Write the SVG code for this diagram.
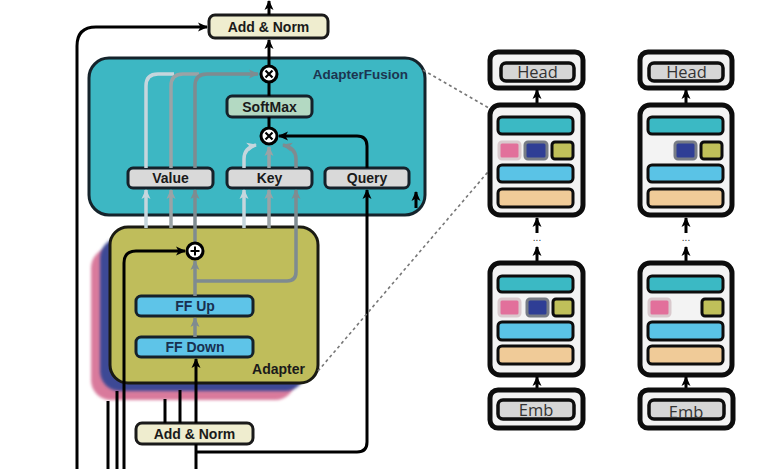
<svg xmlns="http://www.w3.org/2000/svg" width="781" height="469" viewBox="0 0 781 469">
<style>
.lbl{font-family:"Liberation Sans",Arial,sans-serif;font-weight:bold;font-size:14px;fill:#1a1a1a;text-anchor:middle}
.box{stroke:#15212a;stroke-width:3}
.blk{stroke:#000;stroke-width:3;fill:none}
.lt{stroke:#c6d6dd;stroke-width:3.5;fill:none}
.md{stroke:#9ba3a6;stroke-width:3.5;fill:none}
.dk{stroke:#7f8b90;stroke-width:3.5;fill:none}
.mdl{font-family:"Open Sans","Noto Sans",sans-serif;font-size:16.5px;fill:#333;text-anchor:middle}
.outer{fill:#f3f3f3;stroke:#0d0d0d;stroke-width:5}
.bar{stroke:#0d0d0d;stroke-width:3}
.circ{fill:#fff;stroke:#000;stroke-width:3}
</style>
<defs>
<marker id="ab" viewBox="0 0 10 10" refX="9" refY="5" markerWidth="10" markerHeight="10" markerUnits="userSpaceOnUse" orient="auto"><path d="M0,0.5 L10,5 L0,9.5 L2.5,5z" fill="#000"/></marker>
<marker id="al" viewBox="0 0 10 10" refX="9" refY="5" markerWidth="10" markerHeight="10" markerUnits="userSpaceOnUse" orient="auto"><path d="M0,0.5 L10,5 L0,9.5 L2.5,5z" fill="#c6d6dd"/></marker>
<marker id="am" viewBox="0 0 10 10" refX="9" refY="5" markerWidth="10" markerHeight="10" markerUnits="userSpaceOnUse" orient="auto"><path d="M0,0.5 L10,5 L0,9.5 L2.5,5z" fill="#9ba3a6"/></marker>
<marker id="ad" viewBox="0 0 10 10" refX="9" refY="5" markerWidth="10" markerHeight="10" markerUnits="userSpaceOnUse" orient="auto"><path d="M0,0.5 L10,5 L0,9.5 L2.5,5z" fill="#7f8b90"/></marker>
<filter id="soft" x="-10%" y="-10%" width="120%" height="120%"><feGaussianBlur stdDeviation="1.5"/></filter>
</defs>
<rect width="781" height="469" fill="#fff"/>

<g id="adapterfusion">
<rect x="89" y="58" width="336" height="157" rx="20" fill="#3db7c3" stroke="#15232b" stroke-width="3"/>
<text x="408" y="79" font-family="Liberation Sans,Arial,sans-serif" font-weight="bold" font-size="13.5" fill="#1c3550" text-anchor="end">AdapterFusion</text>
</g>
<g id="adapter-stack">
<rect x="91" y="248" width="204" height="152" rx="20" fill="#d97a9c" filter="url(#soft)"/>
<rect x="100" y="238" width="205" height="153" rx="20" fill="#3c4a95" filter="url(#soft)"/>
</g>
<g id="adapter">
<rect x="110" y="227" width="208" height="156" rx="18" fill="#bfbd5b" stroke="#1a1a12" stroke-width="3"/>
<text x="305" y="374" class="lbl" text-anchor="end" style="text-anchor:end">Adapter</text>
</g>
<g id="ff-up"><rect x="136" y="296" width="117" height="20" rx="5" fill="#5ec4e8" class="box"/><text x="195" y="311" class="lbl" fill="#183050" style="fill:#183050">FF Up</text></g>
<g id="ff-down"><rect x="136" y="337" width="117" height="20" rx="5" fill="#5ec4e8" class="box"/><text x="195" y="352" class="lbl" style="fill:#183050">FF Down</text></g>
<g id="value"><rect x="128" y="168" width="85" height="20" rx="5" fill="#d9d9d9" class="box"/><text x="170.5" y="183" class="lbl">Value</text></g>
<g id="key"><rect x="227" y="168" width="85" height="20" rx="5" fill="#d9d9d9" class="box"/><text x="269.5" y="183" class="lbl">Key</text></g>
<g id="query"><rect x="325" y="168" width="84" height="20" rx="5" fill="#d9d9d9" class="box"/><text x="367" y="183" class="lbl">Query</text></g>
<g id="softmax"><rect x="227" y="96" width="85" height="21" rx="5" fill="#b3d9c2" class="box"/><text x="269.5" y="111.5" class="lbl">SoftMax</text></g>
<g id="addnorm-top"><rect x="209" y="15" width="119" height="23" rx="6" fill="#efedcf" stroke="#1a1a1a" stroke-width="3"/><text x="268.5" y="31.5" class="lbl">Add &amp; Norm</text></g>
<g id="addnorm-bottom"><rect x="136" y="423" width="117" height="21" rx="6" fill="#efedcf" stroke="#1a1a1a" stroke-width="3"/><text x="194.5" y="438.5" class="lbl">Add &amp; Norm</text></g>

<g id="connectors">
<!-- residual and outputs -->
<path class="blk" d="M77,469 V46 Q77,27 96,27 H207" marker-end="url(#ab)"/>
<path class="blk" d="M269,15 V1" marker-end="url(#ab)"/>
<path class="blk" d="M269,66 V40" marker-end="url(#ab)"/>
<path class="blk" d="M269,128 V117"/>
<path class="blk" d="M269,96 V82"/>
<!-- value to top mult -->
<path class="lt" d="M146,168 V86 Q146,74 158,74 H174"/>
<path class="md" d="M171,168 V86 Q171,74 183,74 H199"/>
<path class="dk" d="M195,168 V86 Q195,74 207,74 H258" marker-end="url(#ad)"/>
<!-- inputs to value -->
<path class="lt" d="M146,228 V190" marker-end="url(#al)"/>
<path class="md" d="M171,228 V190" marker-end="url(#am)"/>
<path class="dk" d="M195,243 V190" marker-end="url(#ad)"/>
<!-- inputs to key -->
<path class="lt" d="M244,228 V190" marker-end="url(#al)"/>
<path class="md" d="M269,228 V190" marker-end="url(#am)"/>
<path class="dk" d="M195,281 H287 Q296,281 296,272 V190" marker-end="url(#ad)"/>
<!-- key to lower mult -->
<path class="lt" d="M244,168 V159 Q244,148 256,145" marker-end="url(#al)"/>
<path class="md" d="M269,168 V147" marker-end="url(#am)"/>
<path class="dk" d="M296,168 V159 Q296,148 283,145" marker-end="url(#ad)"/>
<!-- query -->
<path class="blk" d="M367,168 V146 Q367,136 357,136 H279" marker-end="url(#ab)"/>
<path class="blk" d="M196,452 H357 Q367,452 367,442 V190" marker-end="url(#ab)"/>
<!-- main input -->
<path class="blk" d="M196,469 V444"/>
<path class="blk" d="M196,423 V359" marker-end="url(#ab)"/>
<!-- adapter internals -->
<path class="dk" d="M195,337 V318" marker-end="url(#ad)"/>
<path class="dk" d="M195,296 V261" marker-end="url(#ad)"/>
<path class="blk" d="M124,469 V263 Q124,251 136,251 H185" marker-end="url(#ab)"/>
<!-- stubs -->
<path class="blk" d="M108,469 V401"/>
<path class="blk" d="M117,469 V391"/>
<path class="blk" d="M165,423 V399"/>
<path class="blk" d="M180,423 V390"/>
<path class="blk" d="M416,208 V192" marker-end="url(#ab)"/>
<!-- zoom guides -->
<path d="M423,70 L494,111" stroke="#777" stroke-width="1.6" stroke-dasharray="3 3" fill="none"/>
<path d="M318,371 L493,166" stroke="#777" stroke-width="1.6" stroke-dasharray="3 3" fill="none"/>
</g>

<g id="mult-top"><circle cx="269" cy="74" r="8" class="circ"/><path d="M265.5,70.5 L272.5,77.5 M272.5,70.5 L265.5,77.5" stroke="#000" stroke-width="2.2"/></g>
<g id="mult-low"><circle cx="269" cy="136" r="8" class="circ"/><path d="M265.5,132.5 L272.5,139.5 M272.5,132.5 L265.5,139.5" stroke="#000" stroke-width="2.2"/></g>
<g id="plus"><circle cx="195" cy="251" r="8" class="circ"/><path d="M195,246.5 V255.5 M190.5,251 H199.5" stroke="#000" stroke-width="2"/></g>

<g id="model1">
<rect x="490" y="52" width="93" height="36" rx="8" class="outer"/>
<rect x="501" y="63" width="73" height="18" rx="5" fill="#d6d6d6" stroke="#0d0d0d" stroke-width="3.5"/>
<text x="537.5" y="78" class="mdl">Head</text>
<path class="blk" d="M537,105 V90" marker-end="url(#ab)"/>
<rect x="490" y="105" width="93" height="110" rx="10" class="outer"/>
<rect x="498" y="117" width="75" height="17" rx="4" fill="#3bb9c4" class="bar"/>
<rect x="499" y="142" width="21" height="17" rx="3" fill="#e2709b" stroke="#d9c9cd" stroke-width="3"/>
<rect x="525" y="142" width="22" height="17" rx="3" fill="#2f3e95" stroke="#777c85" stroke-width="3"/>
<rect x="552" y="142" width="21" height="17" rx="3" fill="#c0c05a" class="bar"/>
<rect x="498" y="165" width="75" height="17" rx="4" fill="#5ac3e6" class="bar"/>
<rect x="498" y="189" width="75" height="18" rx="4" fill="#f0cb98" class="bar"/>
<path class="blk" d="M537,233 V218" marker-end="url(#ab)"/>
<text x="537" y="241" font-family="Liberation Sans,Arial,sans-serif" font-size="10" fill="#333" text-anchor="middle">...</text>
<path class="blk" d="M537,262 V247" marker-end="url(#ab)"/>
<rect x="490" y="263" width="93" height="112" rx="10" class="outer"/>
<rect x="498" y="276" width="75" height="16" rx="4" fill="#3bb9c4" class="bar"/>
<rect x="499" y="299" width="21" height="17" rx="3" fill="#e2709b" stroke="#d9c9cd" stroke-width="3"/>
<rect x="527" y="299" width="21" height="17" rx="3" fill="#2f3e95" stroke="#777c85" stroke-width="3"/>
<rect x="553" y="299" width="20" height="17" rx="3" fill="#c0c05a" class="bar"/>
<rect x="498" y="322" width="75" height="18" rx="4" fill="#5ac3e6" class="bar"/>
<rect x="498" y="346" width="75" height="18" rx="4" fill="#f0cb98" class="bar"/>
<path class="blk" d="M537,390 V377" marker-end="url(#ab)"/>
<rect x="490" y="390" width="93" height="38" rx="8" class="outer"/>
<rect x="498" y="400" width="76" height="19" rx="5" fill="#d6d6d6" stroke="#0d0d0d" stroke-width="3.5"/>
<text x="536" y="416" class="mdl">Emb</text>
</g>

<g id="model2">
<rect x="640" y="52" width="92" height="36" rx="8" class="outer"/>
<rect x="649" y="63" width="74" height="18" rx="5" fill="#d6d6d6" stroke="#0d0d0d" stroke-width="3.5"/>
<text x="686.5" y="78" class="mdl">Head</text>
<path class="blk" d="M686,105 V90" marker-end="url(#ab)"/>
<rect x="640" y="105" width="92" height="110" rx="10" class="outer"/>
<rect x="648" y="117" width="75" height="17" rx="4" fill="#3bb9c4" class="bar"/>
<rect x="675" y="142" width="21" height="17" rx="3" fill="#2f3e95" stroke="#777c85" stroke-width="3"/>
<rect x="701" y="142" width="21" height="17" rx="3" fill="#c0c05a" class="bar"/>
<rect x="648" y="165" width="75" height="17" rx="4" fill="#5ac3e6" class="bar"/>
<rect x="648" y="189" width="75" height="18" rx="4" fill="#f0cb98" class="bar"/>
<path class="blk" d="M686,233 V218" marker-end="url(#ab)"/>
<text x="686" y="241" font-family="Liberation Sans,Arial,sans-serif" font-size="10" fill="#333" text-anchor="middle">...</text>
<path class="blk" d="M686,262 V247" marker-end="url(#ab)"/>
<rect x="640" y="263" width="92" height="112" rx="10" class="outer"/>
<rect x="648" y="276" width="75" height="16" rx="4" fill="#3bb9c4" class="bar"/>
<rect x="649" y="299" width="21" height="17" rx="3" fill="#e2709b" stroke="#d9c9cd" stroke-width="3"/>
<rect x="702" y="299" width="21" height="17" rx="3" fill="#c0c05a" class="bar"/>
<rect x="648" y="322" width="75" height="18" rx="4" fill="#5ac3e6" class="bar"/>
<rect x="648" y="346" width="75" height="18" rx="4" fill="#f0cb98" class="bar"/>
<path class="blk" d="M686,390 V377" marker-end="url(#ab)"/>
<rect x="640" y="390" width="93" height="38" rx="8" class="outer"/>
<rect x="649" y="400" width="75" height="19" rx="5" fill="#d6d6d6" stroke="#0d0d0d" stroke-width="3.5"/>
<text x="686" y="418" class="mdl">Emb</text>
</g>
</svg>
